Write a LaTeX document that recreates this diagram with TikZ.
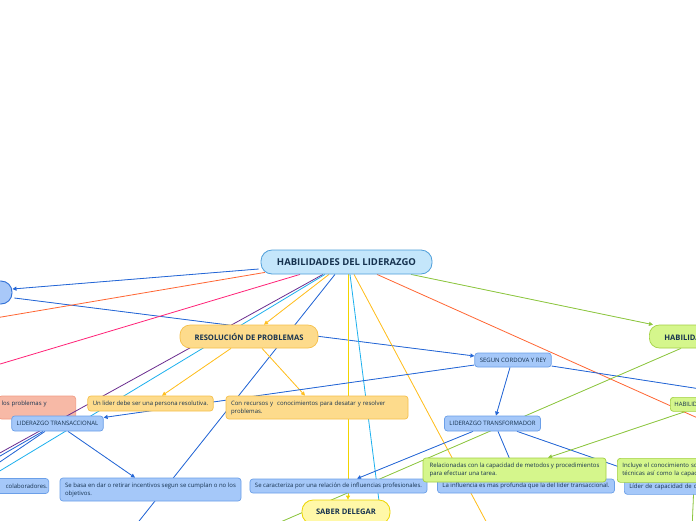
\documentclass[tikz,border=0pt]{standalone}
\usepackage{fontspec}
\setmainfont{Open Sans}
\usetikzlibrary{arrows.meta,calc}
\pgfdeclarelayer{back}
\pgfdeclarelayer{lines}
\pgfsetlayers{back,lines,main}
\definecolor{txt}{HTML}{16324F}
\definecolor{mfill}{HTML}{C4E6FB}
\definecolor{mdraw}{HTML}{4F9FDA}
\definecolor{cfill}{HTML}{A8C8F8}
\definecolor{cdraw}{HTML}{2F6FD6}
\definecolor{bfill}{HTML}{A5C8F9}
\definecolor{bdraw}{HTML}{6B9FE8}
\definecolor{ofill}{HTML}{FDDB8C}
\definecolor{odraw}{HTML}{F6C04A}
\definecolor{gfill}{HTML}{D5F68C}
\definecolor{gdraw}{HTML}{A3D143}
\definecolor{sfill}{HTML}{F7B9A6}
\definecolor{sdraw}{HTML}{F29C84}
\definecolor{yfill}{HTML}{FFF8A8}
\definecolor{ydraw}{HTML}{ECD500}
\definecolor{lblue}{HTML}{2466D6}
\definecolor{lred}{HTML}{FF6633}
\definecolor{lmag}{HTML}{FF2277}
\definecolor{lpur}{HTML}{6B2D8F}
\definecolor{lcyan}{HTML}{1CB0EE}
\definecolor{lgold}{HTML}{FFBF1F}
\definecolor{lyel}{HTML}{F2D400}
\definecolor{lgreen}{HTML}{8DC63F}
\tikzset{
  basebox/.style={line width=0.7pt, rounded corners=3pt, inner ysep=0pt, inner xsep=5pt, text=txt, font=\fontsize{6}{8}\selectfont},
  bbox/.style={basebox, fill=bfill, draw=bdraw},
  obox/.style={basebox, fill=ofill, draw=odraw},
  gbox/.style={basebox, fill=gfill, draw=gdraw},
  sbox/.style={basebox, fill=sfill, draw=sdraw},
  headfont/.style={font=\fontsize{7.6}{9}\selectfont\bfseries},
  conn/.style={line width=0.8pt},
  arr/.style={-{Triangle[length=4pt,width=4pt]}},
  cb/.style={conn, draw=lblue, fill=lblue},
  cred/.style={conn, draw=lred},
  cmag/.style={conn, draw=lmag},
  cpur/.style={conn, draw=lpur},
  ccyan/.style={conn, draw=lcyan},
  cgold/.style={conn, draw=lgold, fill=lgold},
  cyel/.style={conn, draw=lyel, fill=lyel},
  cgreen/.style={conn, draw=lgreen, fill=lgreen},
}
\begin{document}
\begin{tikzpicture}[x=1pt,y=-1pt]
\useasboundingbox (0,0) rectangle (696,520);
\begin{pgfonlayer}{back}
\fill[white] (0,0) rectangle (696,520);
\clip (0,0) rectangle (696,520);
\node[sbox, anchor=east, text width=71pt, align=left, inner xsep=3pt, minimum height=23pt] (sal) at (76,407.5) {los problemas y\\\mbox{}};
\end{pgfonlayer}
\clip (0,0) rectangle (696,520);
% main topic and branches
\node[line width=0.8pt, fill=mfill, draw=mdraw, rounded corners=11pt, minimum width=171pt, minimum height=24pt, inner sep=0pt, text=txt, font=\fontsize{9.5}{11}\selectfont\bfseries] (main) at (346.5,262) {HABILIDADES DEL LIDERAZGO};
\node[line width=0.9pt, fill=cfill, draw=cdraw, rounded corners=11pt, minimum width=104pt, minimum height=23pt] (circ) at (-40,292.5) {};
\node[obox, headfont, rounded corners=10pt, minimum width=138pt, minimum height=23pt] (res) at (249,336.5) {RESOLUCIÓN DE PROBLEMAS};
\node[gbox, headfont, rounded corners=10pt, anchor=west, inner xsep=15pt, minimum height=23pt] (hab2) at (649,336.5) {HABILIDADES TÉCNICAS};
\node[bbox, minimum width=76pt, minimum height=14pt] (segun) at (513,360) {SEGUN CORDOVA Y REY};
\node[bbox, minimum width=95pt, minimum height=15pt] (ltf) at (492.5,423.5) {LIDERAZGO TRANSFORMADOR};
\node[bbox, minimum width=91pt, minimum height=15pt] (ltc) at (57.5,423.5) {LIDERAZGO TRANSACCIONAL};
\node[obox, minimum width=123pt, minimum height=15pt] (unlider) at (150.5,403.5) {Un lider debe ser una persona resolutiva.};
\node[obox, text width=172pt, align=left, minimum height=23pt] (conrec) at (317,407.5) {Con recursos y\ \ conocimientos para desatar y resolver\\problemas.};
\node[bbox, anchor=east, text width=70pt, align=right, inner xsep=1pt, minimum height=15pt] (colab) at (49,486) {colaboradores.};
\node[bbox, align=left, minimum width=181pt, minimum height=23pt] (sebasa) at (150.5,489.5) {Se basa en dar o retirar incentivos segun se cumplan o no los\\objetivos.};
\node[bbox, minimum width=177pt, minimum height=14pt] (secar) at (338.5,486) {Se caracteriza por una relación de influencias profesionales.};
\node[bbox, minimum width=176pt, minimum height=14pt] (lainf) at (526,486) {La influencia es mas profunda que la del lider transaccional.};
\node[bbox, anchor=north west, text width=150pt, align=left, minimum height=15pt] (lcap) at (624,479) {Líder de capacidad de conceptualización};
\node[gbox, align=left, minimum width=183pt, minimum height=24pt] (relac) at (514.5,470) {Relacionadas con la capacidad de metodos y procedimientos\\para efectuar una tarea.};
\node[gbox, anchor=north west, text width=160pt, align=left, minimum height=24pt] (incl) at (617,458) {Incluye el conocimiento sobre métodos y\\técnicas así como la capacidad de usarlos.};
\node[gbox, anchor=north west, inner xsep=4pt, minimum height=14pt] (hab3) at (670,397) {HABILIDADES HUMANAS};
\node[line width=0.8pt, fill=yfill, draw=ydraw, rounded corners=11pt, minimum width=88pt, minimum height=24pt, inner sep=0pt, text=txt, headfont] (saber) at (346,512) {SABER DELEGAR};
% free ends of connectors
\coordinate (o1) at (-40,324);
\coordinate (o2) at (-40,376);
\coordinate (o3) at (-40,475);
\coordinate (o4) at (-40,495);
\coordinate (o5) at (124,540);
\coordinate (o6) at (384,540);
\coordinate (o7) at (496,540);
\coordinate (o8) at (720,428);
\coordinate (o9) at (720,392);
\coordinate (o10) at (239,540);
\coordinate (o11) at (692,530);
\coordinate (o12) at (-40,479);
\coordinate (o13) at (-40,489);
\begin{pgfonlayer}{lines}
\clip (0,0) rectangle (696,520);
\draw[cb, arr] ($(main.west)+(-2,7)$) -- ($(circ.east)+(0,-3.5)$);
\draw[cb, arr] ($(circ.east)+(2,5.5)$) -- ($(segun.west)+(0,-4)$);
\draw[cred] ($(main.south)+(-81.5,-2)$) -- (o1);
\draw[cmag] ($(main.south)+(-46.5,0)$) -- (o2);
\draw[cpur] ($(main.south)+(-23.5,0)$) -- (o3);
\draw[ccyan] ($(main.south)+(-21.5,0)$) -- (o4);
\draw[cgold, arr] ($(main.south)+(-17.5,0)$) -- ($(res.north)+(15,0)$);
\draw[cb] ($(main.south)+(-11.5,0)$) -- (o5);
\draw[cyel, arr] ($(main.south)+(1.5,0)$) -- ($(saber.north)+(2,0)$);
\draw[ccyan] ($(main.south)+(3.5,0)$) -- (o6);
\draw[cgold] ($(main.south)+(7.5,0)$) -- (o7);
\draw[cred] ($(main.south)+(30.5,0)$) -- (o8);
\draw[cgreen, arr] ($(main.south)+(64.5,0)$) -- ($(hab2.north west)+(4,0)$);
\draw[cgold, arr] ($(res.south)+(-18,0)$) -- ($(unlider.north)+(11.5,0)$);
\draw[cgold, arr] ($(res.south)+(13,0)$) -- ($(conrec.north)+(-12,0)$);
\draw[cb, arr] ($(segun.south)+(-3,0)$) -- ($(ltf.north)+(3.5,0)$);
\draw[cb, arr] ($(segun.west)+(0,5)$) -- ($(ltc.east)+(0,-6)$);
\draw[cb] ($(segun.east)+(0,6)$) -- (o9);
\draw[cb, arr] ($(ltf.south)+(-19.5,0)$) -- ($(secar.north)+(18.5,0)$);
\draw[cb, arr] ($(ltf.south)+(5.5,0)$) -- ($(lainf.north)+(-8,0)$);
\draw[cb, arr] ($(ltf.south)+(24.5,0)$) -- ($(lcap.north west)+(30,0)$);
\draw[cgreen] ($(hab2.south west)+(32,0)$) -- (o10);
\draw[cgreen, arr] ($(hab3.south west)+(15,0)$) -- ($(relac.north)+(33.5,0)$);
\draw[cgreen] ($(incl.south west)+(77,0)$) -- (o11);
\draw[cb, arr] ($(ltc.south)+(10.5,0)$) -- ($(sebasa.north)+(-15.5,0)$);
\draw[cb] ($(ltc.south)+(-14.5,0)$) -- (o12);
\draw[cb] ($(ltc.south)+(-12.5,0)$) -- (o13);
\end{pgfonlayer}
\end{tikzpicture}
\end{document}
